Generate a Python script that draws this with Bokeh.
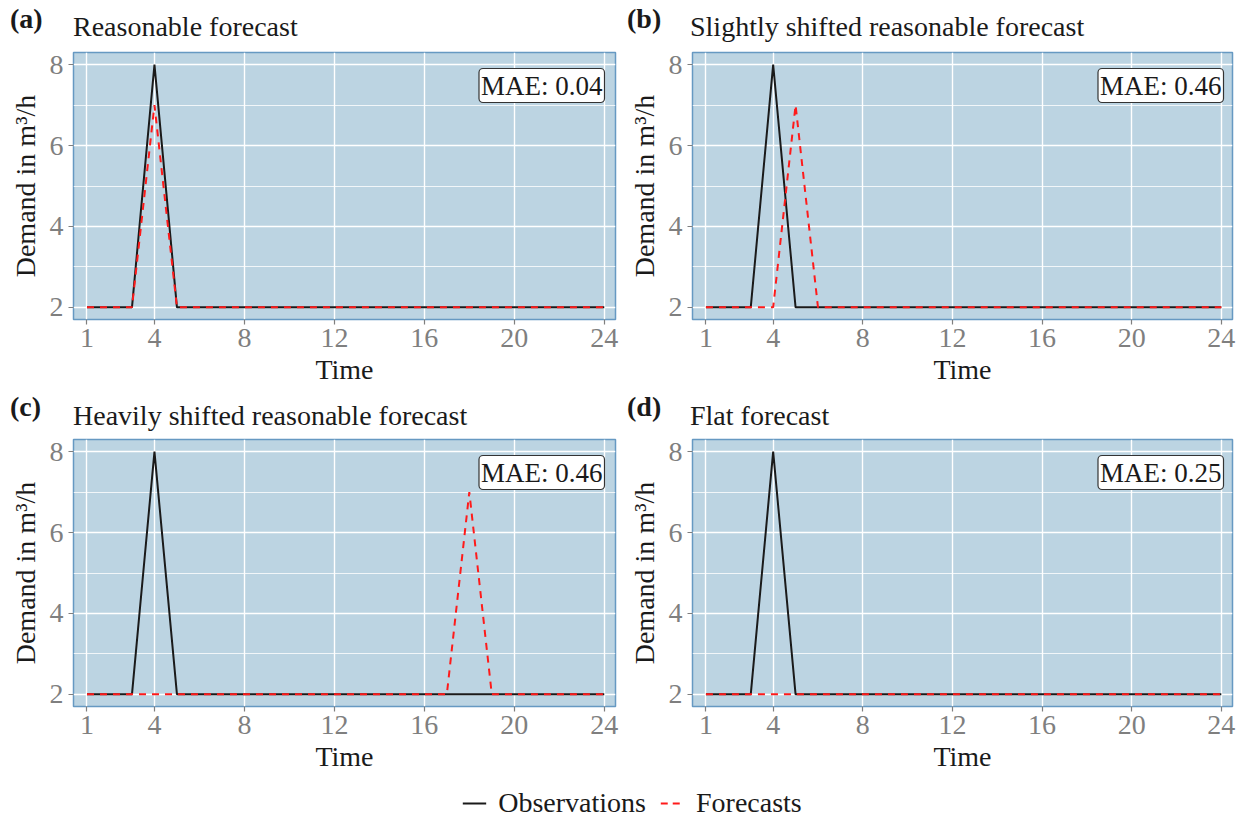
from bokeh.plotting import figure
from bokeh.models import FixedTicker, Label, Legend, LegendItem, Range1d, Div
from bokeh.layouts import column, row
from bokeh.embed import file_html
from bokeh.resources import INLINE

# ---------------- data ----------------
time = [1, 2, 3, 4, 5, 6, 7, 8, 9, 10, 11, 12, 13, 14, 15, 16, 17, 18, 19, 20, 21, 22, 23, 24]
observations = [2, 2, 2, 8, 2, 2, 2, 2, 2, 2, 2, 2, 2, 2, 2, 2, 2, 2, 2, 2, 2, 2, 2, 2]
forecast_a = [2, 2, 2, 7, 2, 2, 2, 2, 2, 2, 2, 2, 2, 2, 2, 2, 2, 2, 2, 2, 2, 2, 2, 2]
forecast_b = [2, 2, 2, 2, 7, 2, 2, 2, 2, 2, 2, 2, 2, 2, 2, 2, 2, 2, 2, 2, 2, 2, 2, 2]
forecast_c = [2, 2, 2, 2, 2, 2, 2, 2, 2, 2, 2, 2, 2, 2, 2, 2, 2, 7, 2, 2, 2, 2, 2, 2]
forecast_d = [2, 2, 2, 2, 2, 2, 2, 2, 2, 2, 2, 2, 2, 2, 2, 2, 2, 2, 2, 2, 2, 2, 2, 2]

tags = ["(a)", "(b)", "(c)", "(d)"]
titles = ["Reasonable forecast", "Slightly shifted reasonable forecast",
          "Heavily shifted reasonable forecast", "Flat forecast"]
mae_labels = ["MAE: 0.04", "MAE: 0.46", "MAE: 0.46", "MAE: 0.25"]
x_ticks = [1, 4, 8, 12, 16, 20, 24]
y_ticks = [2, 4, 6, 8]
y_minor_ticks = [3, 5, 7]
forecasts = [forecast_a, forecast_b, forecast_c, forecast_d]
legend_labels = ["Observations", "Forecasts"]

# ---------------- style ----------------
FONT = "Liberation Serif"
BG = "#BCD4E2"
OUTLINE = "#6699C2"
TICK_GREY = "#7F7F7F"
OBS_COLOR = "#1A1A1A"
FC_COLOR = "#FF1A1A"
FS = "28px"

FRAME_W = 542
FRAME_H = 267


def make_title(i, left, right, height, tag_top, title_top):
    w = left + FRAME_W + right
    html = (
        f'<div style="position:relative;width:{w}px;height:{height}px;'
        f"font-family:'{FONT}',serif;font-size:{FS};line-height:28px;color:#1A1A1A;\">"
        f'<span style="position:absolute;left:{left - 63}px;top:{tag_top}px;'
        f'font-weight:bold;white-space:nowrap;">{tags[i]}</span>'
        f'<span style="position:absolute;left:{left}px;top:{title_top}px;'
        f'white-space:nowrap;">{titles[i]}</span></div>'
    )
    return Div(text=html, width=w, height=height, margin=(0, 0, 0, 0))


def make_panel(i, left, right, bottom):
    p = figure(width=left + FRAME_W + right, height=8 + FRAME_H + bottom,
               min_border_left=left, min_border_right=right,
               min_border_top=8, min_border_bottom=bottom,
               x_range=Range1d(0.4, 24.5), y_range=Range1d(1.7, 8.3),
               toolbar_location=None, output_backend="svg", title=None)
    p.background_fill_color = BG
    p.border_fill_color = "white"
    p.outline_line_color = OUTLINE
    p.outline_line_width = 1.5

    xt = FixedTicker(ticks=x_ticks)
    yt = FixedTicker(ticks=y_ticks, minor_ticks=y_minor_ticks)
    p.xaxis.ticker = xt
    p.yaxis.ticker = yt
    p.xgrid.ticker = xt
    p.ygrid.ticker = yt

    p.xgrid.grid_line_color = "white"
    p.xgrid.grid_line_width = 1.4
    p.ygrid.grid_line_color = "white"
    p.ygrid.grid_line_width = 1.4
    p.ygrid.minor_grid_line_color = "white"
    p.ygrid.minor_grid_line_width = 0.8

    for ax in (p.xaxis[0], p.yaxis[0]):
        ax.axis_line_color = None
        ax.major_tick_line_color = TICK_GREY
        ax.major_tick_line_width = 1.2
        ax.major_tick_out = 5
        ax.major_tick_in = 0
        ax.minor_tick_line_color = None
        ax.major_label_text_font = FONT
        ax.major_label_text_font_size = FS
        ax.major_label_text_color = TICK_GREY
        ax.axis_label_text_font = FONT
        ax.axis_label_text_font_size = FS
        ax.axis_label_text_font_style = "normal"
        ax.axis_label_text_color = "#1A1A1A"
    p.xaxis.major_label_standoff = 4
    p.yaxis.major_label_standoff = 5
    p.xaxis.axis_label = "Time"
    p.xaxis.axis_label_standoff = 4
    p.yaxis.axis_label = "Demand in m³/h"
    p.yaxis.axis_label_standoff = 6

    p.line(time, observations, color=OBS_COLOR, line_width=2)
    p.line(time, forecasts[i], color=FC_COLOR, line_width=2, line_dash="7 6")

    p.add_layout(Label(x=FRAME_W - 11, y=FRAME_H - 16, x_units="screen", y_units="screen",
                       text=mae_labels[i], text_font=FONT, text_font_size="27px",
                       text_color="#1A1A1A", anchor="top_right",
                       background_fill_color="white", border_line_color="#333333",
                       border_line_width=1.2, border_radius=4, padding=2))
    return p


ta = make_title(0, 73, 10, 44, 5, 13)
tb = make_title(1, 65, 5, 44, 5, 13)
tc = make_title(2, 73, 10, 42, 4, 13)
td = make_title(3, 65, 5, 42, 4, 13)
pa = make_panel(0, 73, 10, 70)
pb = make_panel(1, 65, 5, 70)
pc = make_panel(2, 73, 10, 70)
pd = make_panel(3, 65, 5, 70)

# ---------------- legend strip ----------------
lf = figure(width=1237, height=43, toolbar_location=None, output_backend="svg",
            min_border_left=27, min_border_right=0, min_border_top=10, min_border_bottom=0,
            x_range=Range1d(100, 101), y_range=Range1d(100, 101),
            x_axis_type=None, y_axis_type=None, title=None)
lf.grid.visible = False
lf.outline_line_color = None
r_obs = lf.line(time, observations, color=OBS_COLOR, line_width=2)
r_fc = lf.line(time, forecast_d, color=FC_COLOR, line_width=2, line_dash="7 5")
legend = Legend(items=[LegendItem(label=legend_labels[0], renderers=[r_obs]),
                       LegendItem(label=legend_labels[1], renderers=[r_fc])],
                orientation="horizontal", location="center",
                border_line_color=None, background_fill_alpha=0,
                label_text_font=FONT, label_text_font_size=FS,
                label_text_color="#1A1A1A",
                glyph_width=24, label_standoff=12, spacing=14, padding=0, margin=0)
lf.add_layout(legend, "center")

layout = column(row(column(ta, pa), column(tb, pb)),
                row(column(tc, pc), column(td, pd)),
                lf)

with open("out.html", "w") as f:
    f.write(file_html(layout, INLINE))
